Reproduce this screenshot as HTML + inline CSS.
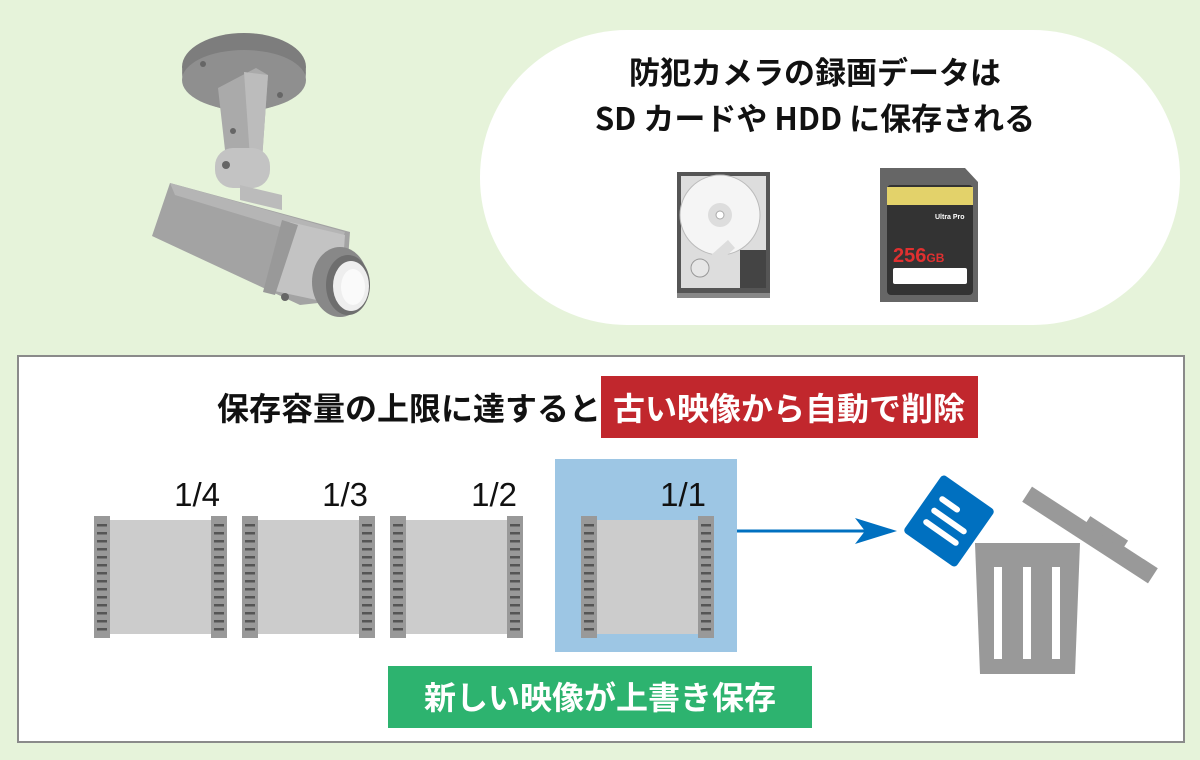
<!DOCTYPE html>
<html><head><meta charset="utf-8"><style>
html,body{margin:0;padding:0;background:#e6f3da;}
svg{display:block;}
text{font-family:"Liberation Sans","Noto Sans CJK JP",sans-serif;}
.j{font-family:"Noto Sans CJK JP","Liberation Sans",sans-serif;font-weight:bold;}
</style></head><body>
<svg width="1200" height="760" viewBox="0 0 1200 760" xmlns="http://www.w3.org/2000/svg">
<rect width="1200" height="760" fill="#e6f3da"/>
<!-- camera -->
<ellipse cx="244" cy="73" rx="62" ry="38" fill="#8a8a8a"/>
<ellipse cx="244" cy="67" rx="62" ry="34" fill="#7d7d7d"/>
<ellipse cx="244" cy="80" rx="62" ry="30" fill="#8f8f8f"/>
<circle cx="203" cy="64" r="3" fill="#666"/><circle cx="280" cy="95" r="3" fill="#666"/>
<polygon points="218,88 256,68 268,75 262,160 225,150" fill="#aaa"/>
<polygon points="244,72 268,75 262,160 250,158" fill="#bcbcbc"/>
<circle cx="233" cy="131" r="3" fill="#666"/>
<rect x="215" y="148" width="55" height="40" rx="18" fill="#c3c3c3"/>
<circle cx="226" cy="165" r="4" fill="#666"/>
<polygon points="240,185 282,195 282,210 240,200" fill="#bbb"/>
<polygon points="170,183 350,232 345,300 300,305 152,236" fill="#a3a3a3"/>
<polygon points="170,183 345,232 340,245 175,195" fill="#b5b5b5"/>
<polygon points="290,222 345,235 340,305 270,290" fill="#c3c3c3"/>
<polygon points="282,220 298,225 275,295 263,292" fill="#999"/>
<circle cx="285" cy="297" r="4" fill="#666"/>
<ellipse cx="340" cy="282" rx="28" ry="35" fill="#888"/>
<ellipse cx="348" cy="285" rx="22" ry="30" fill="#6e6e6e"/>
<ellipse cx="351" cy="286" rx="18" ry="25" fill="#eee"/>
<ellipse cx="353" cy="287" rx="12" ry="18" fill="#fafafa"/>
<!-- bubble -->
<rect x="480" y="30" width="700" height="295" rx="147" fill="#fff"/>
<text class="j" x="815" y="84" font-size="31" text-anchor="middle" fill="#111">防犯カメラの録画データは</text>
<text class="j" x="815" y="130" font-size="31" text-anchor="middle" fill="#111">SD カードや HDD に保存される</text>
<!-- HDD -->
<rect x="677" y="172" width="93" height="126" fill="#555"/>
<rect x="681" y="176" width="85" height="112" fill="#ddd"/>
<circle cx="720" cy="215" r="40" fill="#f5f5f5" stroke="#bbb"/>
<circle cx="720" cy="215" r="12" fill="#ddd"/>
<circle cx="720" cy="215" r="4" fill="#fff" stroke="#aaa"/>
<polygon points="728,240 700,265 705,275 735,248" fill="#ddd"/>
<circle cx="700" cy="268" r="9" fill="#e6e6e6" stroke="#999"/>
<rect x="740" y="250" width="26" height="38" fill="#444"/>
<rect x="677" y="293" width="93" height="5" fill="#888"/>
<!-- SD -->
<polygon points="880,168 965,168 978,182 978,302 880,302" fill="#666"/>
<rect x="887" y="185" width="86" height="110" rx="4" fill="#333"/>
<rect x="887" y="187" width="86" height="18" fill="#e3d26a"/>
<text x="935" y="219" font-size="7" font-weight="bold" fill="#fff">Ultra Pro</text>
<text x="893" y="262" font-size="20" font-weight="bold" fill="#e03030">256<tspan font-size="12">GB</tspan></text>
<rect x="893" y="268" width="74" height="16" rx="2" fill="#fff"/>
<!-- bottom box -->
<rect x="18" y="356" width="1166" height="386" fill="#fff" stroke="#8a8a8a" stroke-width="2"/>
<text class="j" x="601" y="420" font-size="32" fill="#111" text-anchor="end">保存容量の上限に達すると</text>
<rect x="601" y="376" width="377" height="62" fill="#c1272d"/>
<text class="j" x="789" y="420" font-size="32" fill="#fff" text-anchor="middle">古い映像から自動で削除</text>
<rect x="555" y="459" width="182" height="193" fill="#9dc6e4"/>
<defs>
<g id="film">
<rect x="0" y="4" width="133" height="114" fill="#cccccc"/>
<rect x="0" y="0" width="16" height="122" fill="#999"/>
<rect x="117" y="0" width="16" height="122" fill="#999"/>
<g fill="#555">
<rect x="3" y="8" width="10" height="2.5"/><rect x="3" y="16" width="10" height="2.5"/><rect x="3" y="24" width="10" height="2.5"/><rect x="3" y="32" width="10" height="2.5"/><rect x="3" y="40" width="10" height="2.5"/><rect x="3" y="48" width="10" height="2.5"/><rect x="3" y="56" width="10" height="2.5"/><rect x="3" y="64" width="10" height="2.5"/><rect x="3" y="72" width="10" height="2.5"/><rect x="3" y="80" width="10" height="2.5"/><rect x="3" y="88" width="10" height="2.5"/><rect x="3" y="96" width="10" height="2.5"/><rect x="3" y="104" width="10" height="2.5"/><rect x="3" y="112" width="10" height="2.5"/>
<rect x="120" y="8" width="10" height="2.5"/><rect x="120" y="16" width="10" height="2.5"/><rect x="120" y="24" width="10" height="2.5"/><rect x="120" y="32" width="10" height="2.5"/><rect x="120" y="40" width="10" height="2.5"/><rect x="120" y="48" width="10" height="2.5"/><rect x="120" y="56" width="10" height="2.5"/><rect x="120" y="64" width="10" height="2.5"/><rect x="120" y="72" width="10" height="2.5"/><rect x="120" y="80" width="10" height="2.5"/><rect x="120" y="88" width="10" height="2.5"/><rect x="120" y="96" width="10" height="2.5"/><rect x="120" y="104" width="10" height="2.5"/><rect x="120" y="112" width="10" height="2.5"/>
</g>
</g>
</defs>
<use href="#film" x="94" y="516"/>
<use href="#film" x="242" y="516"/>
<use href="#film" x="390" y="516"/>
<use href="#film" x="581" y="516"/>
<g font-size="33" fill="#111" text-anchor="end">
<text x="220" y="506">1/4</text><text x="368" y="506">1/3</text><text x="517" y="506">1/2</text><text x="706" y="506">1/1</text>
</g>
<line x1="737" y1="531" x2="870" y2="531" stroke="#0070c0" stroke-width="3"/>
<polygon points="855,518 897,531 855,544 865,531" fill="#0070c0"/>
<!-- doc -->
<g transform="translate(949,521) rotate(35)">
<rect x="-32" y="-35" width="64" height="70" rx="4" fill="#0070c0"/>
<g stroke="#fff" stroke-width="6" stroke-linecap="round">
<line x1="-18" y1="-14" x2="0" y2="-14"/><line x1="-18" y1="0" x2="18" y2="0"/><line x1="-18" y1="14" x2="18" y2="14"/>
</g></g>
<!-- trash -->
<polygon points="975,543 1080,543 1075,674 980,674" fill="#999"/>
<rect x="994" y="567" width="8" height="92" fill="#fff"/>
<rect x="1023" y="567" width="8" height="92" fill="#fff"/>
<rect x="1052" y="567" width="8" height="92" fill="#fff"/>
<g transform="translate(1090,535) rotate(33)">
<rect x="-75" y="-9" width="150" height="18" fill="#999"/>
<rect x="-10" y="-16" width="45" height="10" fill="#999"/>
</g>
<rect x="388" y="666" width="424" height="62" fill="#2db36f"/>
<text class="j" x="600" y="709" font-size="32" fill="#fff" text-anchor="middle">新しい映像が上書き保存</text>
</svg>
</body></html>
